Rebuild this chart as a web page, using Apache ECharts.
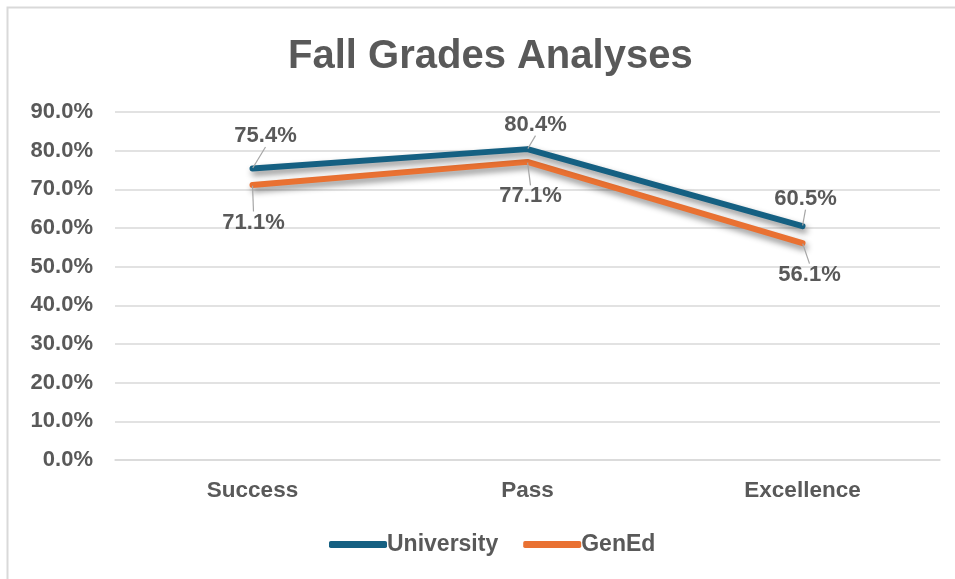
<!DOCTYPE html>
<html>
<head>
<meta charset="utf-8">
<title>Fall Grades Analyses</title>
<script src="https://cdn.jsdelivr.net/npm/echarts@6/dist/echarts.min.js"></script>
<style>
  * { margin: 0; padding: 0; box-sizing: border-box; }
  html, body { background: #fff; }
  #main { width: 955px; height: 579px; }
</style>
</head>
<body>
<div id="main"></div>
<script>
// categories and values (percent)
var categories = ['Success', 'Pass', 'Excellence'];
var university = [75.4, 80.4, 60.5];
var genEd = [71.1, 77.1, 56.1];
var yTicks = [0, 10, 20, 30, 40, 50, 60, 70, 80, 90];

var chart = echarts.init(document.getElementById('main'));

var textCol = '#595959';
var font = '"Liberation Sans", Arial, sans-serif';

function pct(v) { return v.toFixed(1) + '%'; }

chart.setOption({
  animation: false,
  backgroundColor: '#fff',
  graphic: [{
    type: 'rect',
    shape: { x: 7.5, y: 7.5, width: 1000, height: 1000 },
    style: { fill: 'none', stroke: '#d9d9d9', lineWidth: 2 },
    silent: true
  }],
  // the original frame is wider than the picture, so centre on x≈489
  title: {
    text: 'Fall Grades Analyses',
    left: 283,
    top: 32,
    textStyle: { color: textCol, fontSize: 40, fontWeight: 'bold', fontFamily: font }
  },
  legend: {
    bottom: 18,
    left: 324,
    icon: 'roundRect',
    itemWidth: 58,
    itemHeight: 7,
    itemGap: 25,
    textStyle: { color: textCol, fontSize: 23, fontWeight: 'bold', fontFamily: font, padding: [0, 0, 0, -5] },
    data: ['University', 'GenEd']
  },
  grid: { left: 115, right: 15, top: 112, bottom: 119 },
  xAxis: {
    type: 'category',
    data: categories,
    boundaryGap: true,
    axisLine: { lineStyle: { color: '#d9d9d9', width: 1.5 } },
    axisTick: { show: false },
    axisLabel: { color: textCol, fontSize: 22.5, fontWeight: 'bold', fontFamily: font, margin: 19 }
  },
  yAxis: {
    type: 'value',
    min: yTicks[0],
    max: yTicks[yTicks.length - 1],
    interval: 10,
    axisLine: { show: false },
    axisTick: { show: false },
    splitLine: { lineStyle: { color: '#d9d9d9', width: 1.5 } },
    axisLabel: {
      color: textCol, fontSize: 22, fontWeight: 'bold', fontFamily: font, margin: 22,
      formatter: pct
    }
  },
  series: [
    {
      name: 'University',
      type: 'line',
      data: university,
      symbol: 'circle',
      symbolSize: 1,
      color: '#156082',
      itemStyle: { color: '#156082' },
      lineStyle: {
        width: 6, cap: 'round', join: 'round', color: '#156082',
        shadowColor: 'rgba(0,0,0,0.45)', shadowBlur: 6, shadowOffsetX: 2, shadowOffsetY: 4
      },
      label: {
        show: true, position: 'top', distance: 22,
        color: textCol, fontSize: 22, fontWeight: 'bold', fontFamily: font,
        formatter: function (p) { return pct(p.value); }
      },
      labelLine: { show: true, lineStyle: { color: '#a6a6a6', width: 1.2 } },
      labelLayout: function (p) {
        return { dx: [13, 8, 3][p.dataIndex], dy: [1, 9, 6][p.dataIndex] };
      },
      z: 3
    },
    {
      name: 'GenEd',
      type: 'line',
      data: genEd,
      symbol: 'circle',
      symbolSize: 1,
      color: '#E97132',
      itemStyle: { color: '#E97132' },
      lineStyle: {
        width: 6, cap: 'round', join: 'round', color: '#E97132',
        shadowColor: 'rgba(0,0,0,0.45)', shadowBlur: 6, shadowOffsetX: 2, shadowOffsetY: 4
      },
      label: {
        show: true, position: 'bottom', distance: 22,
        color: textCol, fontSize: 22, fontWeight: 'bold', fontFamily: font,
        formatter: function (p) { return pct(p.value); }
      },
      labelLine: { show: true, lineStyle: { color: '#a6a6a6', width: 1.2 } },
      labelLayout: function (p) {
        return { dx: [1, 3, 7][p.dataIndex], dy: [4, 1, -2][p.dataIndex] };
      },
      z: 2
    }
  ]
});
</script>
</body>
</html>
